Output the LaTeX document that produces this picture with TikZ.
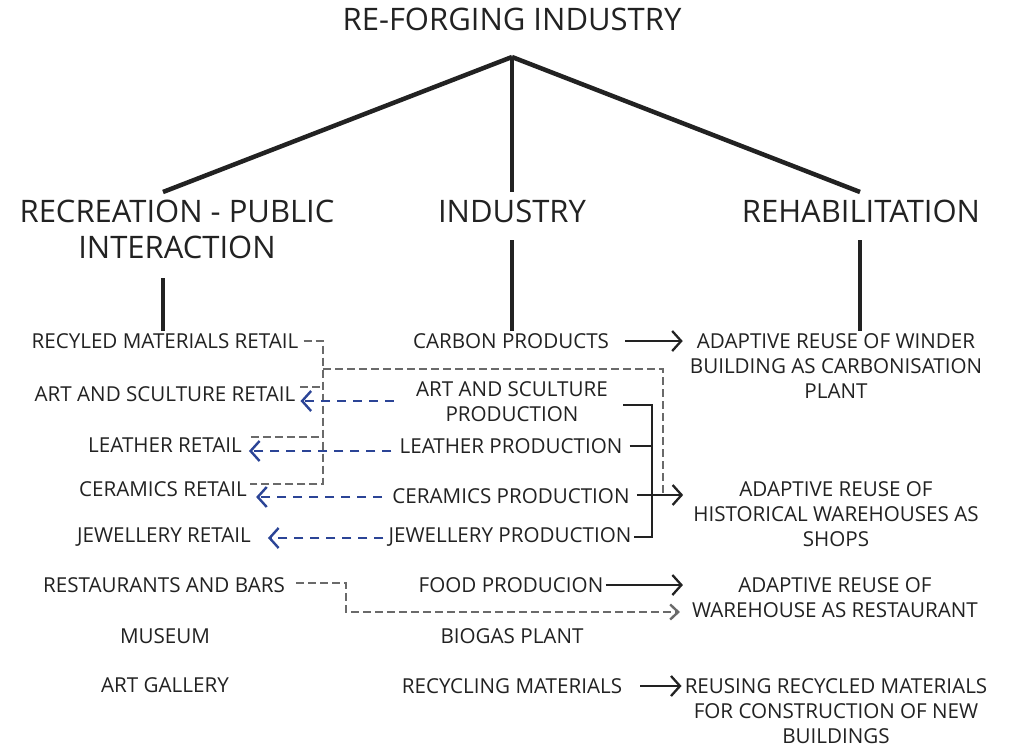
\documentclass[tikz,border=0pt]{standalone}
\usepackage{fontspec}
\setmainfont{Open Sans}
\usetikzlibrary{arrows.meta}
\definecolor{ink}{HTML}{222222}
\definecolor{navy}{HTML}{2B4496}
\definecolor{slate}{HTML}{6A6A6A}

\begin{document}
\begin{tikzpicture}[x=1pt, y=-1pt, >={Straight Barb[length=9pt,width=20pt]},
    head/.style={text=ink, font=\fontsize{31}{36}\selectfont, align=center, inner sep=2pt},
    item/.style={text=ink, font=\fontsize{20.6}{25}\selectfont, align=center, inner sep=2pt},
    branch/.style={ink, line width=4.5pt},
    link/.style={ink, line width=2.3pt},
    feed/.style={navy, line width=2.4pt, dash pattern=on 9pt off 7pt},
    share/.style={slate, line width=2.4pt, dash pattern=on 8pt off 4pt}]
    \fill[white] (0,0) rectangle (1009,747);
    \useasboundingbox (0,0) rectangle (1009,747);

    % Draw Headings
    \node[head] (title) at (512,19) {RE-FORGING INDUSTRY};
    \node[head] (recr) at (177,229) {RECREATION - PUBLIC\\INTERACTION};
    \node[head] (indu) at (512,211) {INDUSTRY};
    \node[head] (rehab) at (861,211) {REHABILITATION};

    % Draw Tree
    \coordinate (apex) at (512,57);
    \coordinate (recfoot) at (163,278);
    \coordinate (indfoot) at (512,240);
    \coordinate (rehfoot) at (860,240);
    \draw[branch] (apex) -- (163,192);
    \draw[branch] (apex) -- (512,192);
    \draw[branch] (apex) -- (860,192);

    % Draw Recreation Column
    \node[item] (recyr) at (165,341) {RECYLED MATERIALS RETAIL};
    \node[item] (artr) at (165,394) {ART AND SCULTURE RETAIL};
    \node[item] (leathr) at (165,445) {LEATHER RETAIL};
    \node[item] (cerr) at (163,489) {CERAMICS RETAIL};
    \node[item] (jewr) at (164,537) {JEWELLERY RETAIL};
    \node[item] (rest) at (164,585) {RESTAURANTS AND BARS};
    \node[item] (museum) at (165,636) {MUSEUM};
    \node[item] (gallery) at (165,685) {ART GALLERY};

    % Draw Industry Column
    \node[item] (carbon) at (511,341) {CARBON PRODUCTS};
    \node[item] (artp) at (512,402) {ART AND SCULTURE\\PRODUCTION};
    \node[item] (leap) at (511,446) {LEATHER PRODUCTION};
    \node[item] (cerp) at (511,496) {CERAMICS PRODUCTION};
    \node[item] (jewp) at (510,537) {JEWELLERY PRODUCTION};
    \node[item] (foodp) at (511,585) {FOOD PRODUCION};
    \node[item] (biogas) at (512,636) {BIOGAS PLANT};
    \node[item] (recm) at (512,686) {RECYCLING MATERIALS};

    % Draw Rehabilitation Column
    \node[item] (winder) at (836,366) {ADAPTIVE REUSE OF WINDER\\BUILDING AS CARBONISATION\\PLANT};
    \node[item] (shops) at (836,514) {ADAPTIVE REUSE OF\\HISTORICAL WAREHOUSES AS\\SHOPS};
    \node[item] (resto) at (835,598) {ADAPTIVE REUSE OF\\WAREHOUSE AS RESTAURANT};
    \node[item] (reuse) at (836,711) {REUSING RECYCLED MATERIALS\\FOR CONSTRUCTION OF NEW\\BUILDINGS};

    % Draw Column Stems
    \draw[branch] (recfoot) -- (recfoot |- recyr.north);
    \draw[branch] (indfoot) -- (indfoot |- carbon.north);
    \draw[branch] (rehfoot) -- (rehfoot |- carbon.north);

    % Draw Retail Bus
    \coordinate (bus) at (323,341);
    \coordinate (drop) at (663,369);
    \draw[share] ([xshift=3pt]recyr.east) -| ([yshift=5pt]bus |- cerr.east) -- ([xshift=1pt,yshift=5pt]cerr.east);
    \draw[share] ([xshift=3pt,yshift=7pt]artr.east) -- ([yshift=7pt]bus |- artr.east);
    \draw[share] ([xshift=7pt,yshift=8pt]leathr.east) -- ([yshift=8pt]bus |- leathr.east);
    \draw[share] (bus |- drop) -- (drop) -- ([yshift=2pt]drop |- cerp.east);

    % Draw Production to Retail
    \draw[feed, ->, shorten >=3pt] ([xshift=-20pt,yshift=1pt]artp.west) -- ([yshift=1pt]artr.east |- artp.west);
    \draw[feed, ->, shorten >=5pt] ([xshift=-6pt,yshift=-5pt]leap.west) -- ([yshift=-5pt]leathr.east |- leap.west);
    \draw[feed, ->, shorten >=7pt] ([xshift=-8pt,yshift=-1pt]cerp.west) -- ([yshift=-1pt]cerr.east |- cerp.west);
    \draw[feed, ->, shorten >=15pt] ([xshift=-3pt,yshift=-1pt]jewp.west) -- ([yshift=-1pt]jewr.east |- jewp.west);

    % Draw Production Bracket
    \coordinate (brk) at (652,405);
    \draw[link] ([xshift=13pt,yshift=-3pt]artp.east) -- (brk) -- (brk |- jewp.east) -- (jewp.east);
    \draw[link] ([xshift=5pt]leap.east) -- (brk |- leap.east);

    % Draw Production to Rehabilitation
    \draw[link, ->, shorten >=5pt] ([xshift=14pt]carbon.east) -- (winder.west |- carbon.east);
    \draw[link, ->, shorten >=8pt] ([xshift=5pt,yshift=1pt]cerp.east) -- ([yshift=1pt]shops.west |- cerp.east);
    \draw[link, ->, shorten >=7pt] (foodp.east) -- (resto.west |- foodp.east);
    \draw[link, ->, shorten >=1pt] ([xshift=16pt]recm.east) -- (reuse.west |- recm.east);

    % Draw Restaurant Link
    \coordinate (jog) at (346,612);
    \draw[share, ->, >={Straight Barb[length=8pt,width=15pt]}, shorten >=10pt] ([xshift=9pt,yshift=2pt]rest.east) -| (jog) -- (resto.west |- jog);
\end{tikzpicture}
\end{document}
